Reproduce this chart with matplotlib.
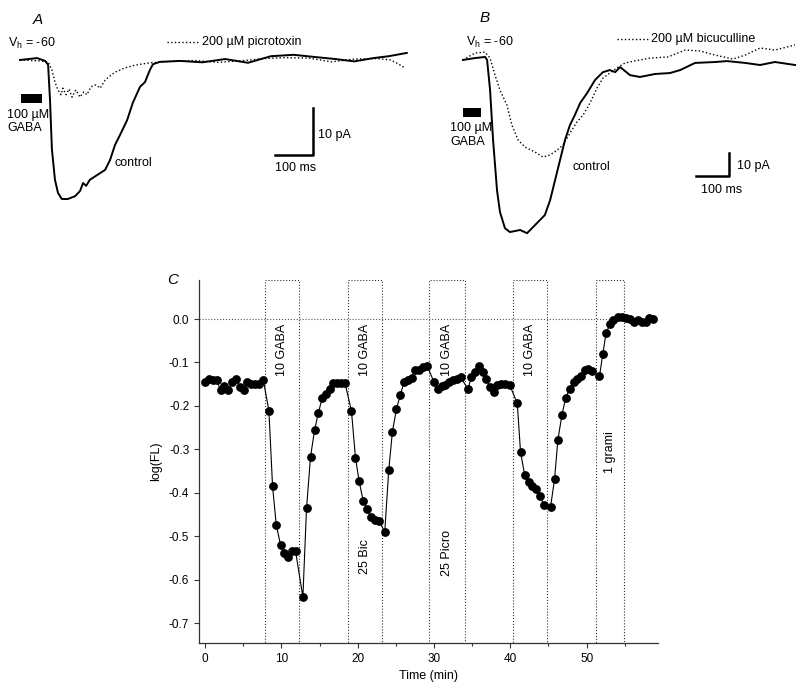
import numpy as np
import matplotlib
matplotlib.use("Agg")
import matplotlib.pyplot as plt

plt.rcParams['font.family'] = ['Liberation Sans', 'DejaVu Sans']
plt.rcParams['mathtext.fontset'] = 'custom'
plt.rcParams['mathtext.rm'] = 'Liberation Sans'
plt.rcParams['axes.unicode_minus'] = False

# ---- Panel A traces (time in ms, current in pA) ----
a_ctrl_t = [0, 45, 66, 74, 79, 84, 92, 100, 110, 126, 145, 158, 166, 174, 184, 203, 224, 237,
            250, 263, 282, 297, 316, 329, 342, 350, 368, 421, 480, 540, 600, 660, 720, 780,
            830, 880, 930, 970, 1018]
a_ctrl_i = [0, 0.4, -0.2, -1, -8.5, -19, -25.5, -28.3, -29.6, -29.6, -29, -27.9, -26.2, -26.8,
            -25.5, -24.5, -23.4, -21.3, -18.1, -16, -12.8, -9.1, -5.7, -4.7, -2.1, -0.9, -0.4,
            -0.2, -0.5, 0.2, -0.6, 0.8, 1.1, 0.6, 0.2, -0.3, 0.4, 0.8, 1.5]
a_picro_t = [0, 53, 74, 84, 92, 100, 108, 113, 121, 129, 137, 147, 158, 168, 176, 187, 200, 211,
             224, 237, 250, 276, 303, 342, 400, 460, 520, 580, 640, 700, 760, 820, 880, 940,
             975, 995, 1013]
a_picro_i = [0, -0.2, -0.4, -2.1, -4.7, -6.4, -7.4, -6, -7.4, -6.2, -7.9, -6.4, -7.9, -6.8, -7.4,
             -5.7, -5.3, -6, -4.3, -3.4, -2.6, -1.7, -1.1, -0.6, -0.3, -0.1, -0.5, -0.2, 0.3,
             0.5, 0.4, -0.4, 0.2, 0.3, 0.0, -0.8, -1.7]

# ---- Panel B traces (time in ms, current in pA) ----
b_ctrl_t = [0, 36, 67, 73, 82, 91, 103, 112, 127, 142, 173, 194, 218, 248, 264, 279, 294, 309,
            324, 339, 355, 376, 400, 424, 445, 461, 476, 506, 536, 582, 627, 658, 703, 764, 800,
            855, 900, 945, 1006]
b_ctrl_i = [-0.4, 0.4, 0.9, -0.4, -13.5, -35, -57, -66.5, -73.5, -75.2, -74.3, -75.7, -72.2,
            -67.8, -61.3, -52.6, -43.9, -35.2, -28.7, -24.3, -19.1, -14.8, -9.1, -5.7, -4.8,
            -5.7, -3.5, -7, -7.8, -6.5, -6.1, -4.8, -1.7, -1.3, -0.9, -1.7, -2.6, -1.3, -2.6]
b_bic_t = [0, 36, 67, 82, 97, 112, 133, 148, 167, 188, 218, 242, 264, 285, 303, 324, 345, 364,
           385, 406, 424, 445, 470, 491, 536, 567, 621, 673, 718, 764, 818, 855, 900, 945, 1006]
b_bic_i = [-0.4, 2.6, 3, 0.4, -7, -13.5, -20, -28.7, -35.2, -38.3, -40.4, -42.6, -41.7, -39.6,
           -37.4, -32.2, -27.4, -24.3, -19.1, -12.6, -8.3, -6.1, -3.5, -1.7, -0.4, 0.4, 0.9,
           3.9, 3.5, 1.7, 0, 1.7, 4.8, 3.9, 6.1]

# ---- Panel C: log(FL) vs time ----
time_min = [0.0, 0.57, 1.09, 1.53, 2.05, 2.49, 3.05, 3.58, 4.06, 4.58, 5.10, 5.54, 6.02, 6.59,
            7.11, 7.63, 8.37, 8.85, 9.33, 9.90, 10.34, 10.82, 11.34, 11.86, 12.82, 13.30, 13.82,
            14.35, 14.83, 15.35, 15.83, 16.35, 16.79, 17.31, 17.79, 18.32, 19.19, 19.71, 20.19,
            20.72, 21.24, 21.72, 22.24, 22.76, 23.55, 24.07, 24.55, 25.08, 25.60, 26.08, 26.60,
            27.08, 27.56, 28.04, 28.56, 29.09, 30.0, 30.53, 31.05, 31.49, 31.97, 32.49, 32.97,
            33.49, 34.45, 34.89, 35.41, 35.89, 36.41, 36.85, 37.37, 37.81, 38.29, 38.81, 39.34,
            39.90, 40.91, 41.34, 41.87, 42.39, 42.87, 43.40, 43.83, 44.40, 45.27, 45.80, 46.23,
            46.76, 47.24, 47.76, 48.29, 48.76, 49.29, 49.72, 50.17, 50.72, 51.68, 52.11, 52.55,
            53.07, 53.51, 54.07, 54.64, 55.16, 55.73, 56.25, 56.77, 57.25, 57.78, 58.21, 58.73]
log_fl = [-0.145, -0.137, -0.140, -0.141, -0.164, -0.155, -0.164, -0.145, -0.137, -0.157,
          -0.163, -0.145, -0.149, -0.149, -0.149, -0.140, -0.211, -0.385, -0.473, -0.520,
          -0.539, -0.547, -0.534, -0.534, -0.639, -0.435, -0.317, -0.256, -0.217, -0.182,
          -0.172, -0.162, -0.147, -0.147, -0.147, -0.146, -0.212, -0.319, -0.373, -0.418,
          -0.437, -0.456, -0.462, -0.464, -0.489, -0.348, -0.259, -0.207, -0.174, -0.145,
          -0.141, -0.135, -0.117, -0.117, -0.110, -0.107, -0.145, -0.162, -0.153, -0.151,
          -0.145, -0.141, -0.137, -0.134, -0.161, -0.134, -0.122, -0.107, -0.122, -0.137,
          -0.157, -0.168, -0.151, -0.149, -0.149, -0.151, -0.194, -0.306, -0.358, -0.375,
          -0.385, -0.392, -0.406, -0.427, -0.432, -0.368, -0.278, -0.221, -0.182, -0.161,
          -0.145, -0.137, -0.132, -0.118, -0.114, -0.120, -0.132, -0.081, -0.032, -0.012,
          -0.002, 0.004, 0.004, 0.003, -0.001, -0.006, -0.002, -0.006, -0.008, 0.002, 0.0]

box_start = [7.9, 18.7, 29.4, 40.3, 51.2]
box_end = [12.3, 23.2, 34.0, 44.8, 54.9]
box_top_label = ["10 GABA", "10 GABA", "10 GABA", "10 GABA", ""]
box_low_label = ["", "25 Bic", "25 Picro", "", "1 grami"]
box_low_y = [None, -0.547, -0.538, None, -0.306]

fig = plt.figure(figsize=(8, 6.88), dpi=100)

# ---------------- Panel A ----------------
ax_a = fig.add_axes([0, 1 - 230 / 688, 430 / 800, 230 / 688])
ax_a.set_xlim(-52.6, 1079)
ax_a.set_ylim(-36.2, 12.77)
ax_a.axis('off')
ax_a.plot(a_ctrl_t, a_ctrl_i, color='black', lw=1.4)
ax_a.plot(a_picro_t, a_picro_i, color='black', lw=1.0, ls=':')
ax_a.fill_between([2.6, 58], -9.1, -7.2, color='black', lw=0)
ax_a.text(-34, -11.7, "100 µM", fontsize=9, va='center')
ax_a.text(-34, -14.5, "GABA", fontsize=9, va='center')
ax_a.text(250, -21.9, "control", fontsize=9, va='center')
ax_a.text(-31.6, 3.6, r"V$_\mathregular{h}$ = -60", fontsize=9, va='center')
ax_a.text(34, 8.5, "A", fontsize=11, style='italic', va='center')
ax_a.plot([387, 474], [3.8, 3.8], color='black', lw=1.0, ls=':')
ax_a.text(479, 3.8, "200 µM picrotoxin", fontsize=9, va='center')
ax_a.plot([671, 771, 771], [-20.2, -20.2, -10.2], color='black', lw=1.8)
ax_a.text(784, -16, "10 pA", fontsize=9, va='center')
ax_a.text(671, -23, "100 ms", fontsize=9, va='center')

# ---------------- Panel B ----------------
ax_b = fig.add_axes([440 / 800, 1 - 250 / 688, 360 / 800, 250 / 688])
ax_b.set_xlim(-69.7, 1021)
ax_b.set_ylim(-83, 25.65)
ax_b.axis('off')
ax_b.plot(b_ctrl_t, b_ctrl_i, color='black', lw=1.4)
ax_b.plot(b_bic_t, b_bic_i, color='black', lw=1.0, ls=':')
ax_b.fill_between([0, 55], -25.2, -21.3, color='black', lw=0)
ax_b.text(-39, -30, "100 µM", fontsize=9, va='center')
ax_b.text(-39, -36, "GABA", fontsize=9, va='center')
ax_b.text(333, -47, "control", fontsize=9, va='center')
ax_b.text(9, 7, r"V$_\mathregular{h}$ = -60", fontsize=9, va='center')
ax_b.text(51, 17.8, "B", fontsize=11, style='italic', va='center')
ax_b.plot([467, 567], [8.7, 8.7], color='black', lw=1.0, ls=':')
ax_b.text(570, 8.7, "200 µM bicuculline", fontsize=9, va='center')
ax_b.plot([706, 806, 806], [-50.9, -50.9, -40.9], color='black', lw=1.8)
ax_b.text(830, -46.5, "10 pA", fontsize=9, va='center')
ax_b.text(721, -57, "100 ms", fontsize=9, va='center')

# ---------------- Panel C ----------------
ax = fig.add_axes([199 / 800, 45 / 688, 459 / 800, 363 / 688])
ax.set_xlim(-0.79, 59.35)
ax.set_ylim(-0.745, 0.0897)

for x0, x1, top, low, ly in zip(box_start, box_end, box_top_label, box_low_label, box_low_y):
    ax.axvspan(x0, x1, ymin=0, ymax=1, fill=False, ls=':', lw=0.8, ec='#333333')
    xc = (x0 + x1) / 2
    if top:
        ax.text(xc, -0.071, top, rotation=90, ha='center', va='center', fontsize=9)
    if low:
        ax.text(xc, ly, low, rotation=90, ha='center', va='center', fontsize=9)

ax.axhline(0, color='#555555', ls=':', lw=0.8)
ax.plot(time_min, log_fl, color='black', lw=0.8, marker='o', ms=5.3)

for s in ['top', 'right']:
    ax.spines[s].set_visible(False)
for s in ['left', 'bottom']:
    ax.spines[s].set_color('#333333')
    ax.spines[s].set_linewidth(0.9)

ax.set_xticks([0, 10, 20, 30, 40, 50])
ax.set_xticks([5, 15, 25, 35, 45, 55], minor=True)
ax.set_yticks([0.0, -0.1, -0.2, -0.3, -0.4, -0.5, -0.6, -0.7])
ax.set_yticklabels(["0.0", "-0.1", "-0.2", "-0.3", "-0.4", "-0.5", "-0.6", "-0.7"])
ax.tick_params(axis='both', which='major', direction='out', length=3.5, width=0.8,
               labelsize=8.5, color='#333333')
ax.tick_params(axis='x', which='minor', direction='out', length=2, width=0.8, color='#333333')
ax.set_xlabel("Time (min)", fontsize=9, labelpad=4)
ax.set_ylabel("log(FL)", fontsize=9, labelpad=5)
ax.text(-0.07, 1.0, "C", transform=ax.transAxes, fontsize=11, style='italic', va='center')

fig.savefig("out.png", dpi=100)
